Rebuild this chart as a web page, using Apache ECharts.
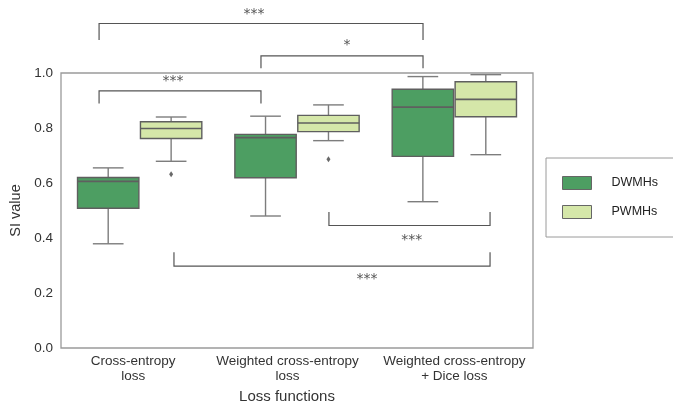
<!DOCTYPE html>
<html><head><meta charset="utf-8">
<script src="https://cdn.jsdelivr.net/npm/echarts@6/dist/echarts.min.js"></script>
<style>html,body{margin:0;padding:0;background:#fff}#c{width:673px;height:409px}</style>
</head><body><div id="c"></div>
<script>
const categories = ['Cross-entropy\nloss', 'Weighted cross-entropy\nloss', 'Weighted cross-entropy\n+ Dice loss'];
const seriesNames = ['DWMHs', 'PWMHs'];
// [low whisker, Q1, median, Q3, high whisker]
const dwmhStats = [
  [0.379, 0.508, 0.606, 0.620, 0.655],
  [0.480, 0.619, 0.765, 0.777, 0.843],
  [0.532, 0.697, 0.876, 0.941, 0.987]
];
const pwmhStats = [
  [0.679, 0.762, 0.798, 0.823, 0.840],
  [0.754, 0.787, 0.818, 0.846, 0.884],
  [0.703, 0.841, 0.904, 0.968, 0.994]
];
// [category index, value]
const pwmhOutliers = [[0, 0.632], [1, 0.686]];
const yTicks = [0.0, 0.2, 0.4, 0.6, 0.8, 1.0];
// significance brackets: [xStart, xEnd, yLine, yTip] (x in category units)
const brackets = [
  [-0.258, 1.801, 1.180, 1.120],
  [0.771, 1.801, 1.062, 1.017],
  [-0.258, 0.771, 0.935, 0.889],
  [1.203, 2.227, 0.4455, 0.495],
  [0.218, 2.227, 0.2975, 0.348]
];
const bracketLabels = ['***', '*', '***', '***', '***'];
// label anchor: [x, y]
const bracketLabelPos = [
  [0.727, 1.213], [1.318, 1.100], [0.212, 0.969], [1.730, 0.391], [1.445, 0.248]
];

const colors = ['#4d9e62', '#d5e7a9'];
const edge = '#5f5f5f';
const whisker = '#7d7d7d';
const hueOffset = [-0.2, 0.2];
const boxW = 0.39;

function boxRender(hue) {
  return function (params, api) {
    const i = api.value(0);
    const x = i + hueOffset[hue];
    const lo = api.value(1), q1 = api.value(2), med = api.value(3), q3 = api.value(4), hi = api.value(5);
    const w = api.size([boxW, 0])[0];
    const c = api.coord([x, 0])[0];
    const yLo = api.coord([x, lo])[1], yQ1 = api.coord([x, q1])[1], yMed = api.coord([x, med])[1];
    const yQ3 = api.coord([x, q3])[1], yHi = api.coord([x, hi])[1];
    const ls = { stroke: whisker, lineWidth: 1.4 };
    return {
      type: 'group',
      children: [
        { type: 'line', shape: { x1: c, y1: yQ1, x2: c, y2: yLo }, style: ls },
        { type: 'line', shape: { x1: c, y1: yQ3, x2: c, y2: yHi }, style: ls },
        { type: 'line', shape: { x1: c - w / 4, y1: yLo, x2: c + w / 4, y2: yLo }, style: ls },
        { type: 'line', shape: { x1: c - w / 4, y1: yHi, x2: c + w / 4, y2: yHi }, style: ls },
        { type: 'rect', shape: { x: c - w / 2, y: yQ3, width: w, height: yQ1 - yQ3 },
          style: { fill: colors[hue], stroke: edge, lineWidth: 1.4 } },
        { type: 'line', shape: { x1: c - w / 2, y1: yMed, x2: c + w / 2, y2: yMed }, style: { stroke: edge, lineWidth: 1.6 } }
      ]
    };
  };
}

function bracketRender(params, api) {
  const x1 = api.coord([api.value(0), api.value(2)]);
  const x2 = api.coord([api.value(1), api.value(2)]);
  const tipY = api.coord([0, api.value(3)])[1];
  const lp = bracketLabelPos[params.dataIndex];
  const tp = api.coord(lp);
  return {
    type: 'group',
    children: [
      { type: 'polyline', shape: { points: [[x1[0], tipY], [x1[0], x1[1]], [x2[0], x2[1]], [x2[0], tipY]] },
        style: { stroke: '#555', lineWidth: 1.2, fill: null } },
      { type: 'text', x: tp[0], y: tp[1],
        style: { text: bracketLabels[params.dataIndex], fill: '#555', font: '14px "DejaVu Sans"', align: 'center', verticalAlign: 'middle' } }
    ]
  };
}

const chart = echarts.init(document.getElementById('c'), null, { renderer: 'canvas' });
chart.setOption({
  animation: false,
  grid: { left: 61, right: 140, top: 73, bottom: 57, show: true, borderColor: '#9a9a9a', borderWidth: 1.3, backgroundColor: 'transparent' },
  legend: {
    orient: 'vertical', left: 546, top: 158,
    data: seriesNames,
    icon: 'rect', itemWidth: 29, itemHeight: 13, itemGap: 15,
    padding: [18, 40, 18, 16],
    borderColor: '#9a9a9a', borderWidth: 1,
    itemStyle: { borderColor: '#666', borderWidth: 1 },
    textStyle: { fontFamily: 'Liberation Sans', fontSize: 12.5, color: '#222', padding: [0, 0, 0, 15] }
  },
  xAxis: [
    {
      type: 'category', data: categories, gridIndex: 0,
      axisLine: { show: false }, axisTick: { show: false },
      axisLabel: {
        interval: 0,
        color: '#333', fontFamily: 'Liberation Sans', fontSize: 13.5, lineHeight: 15, margin: 6,
        formatter: function (v, idx) {
          const st = ['a', 'b', 'c'][idx];
          return v.split('\n').map(s => '{' + st + '|' + s + '}').join('\n');
        },
        rich: {
          a: { fontFamily: 'Liberation Sans', fontSize: 13.5, color: '#333', lineHeight: 15, padding: [0, 13, 0, 0] },
          b: { fontFamily: 'Liberation Sans', fontSize: 13.5, color: '#333', lineHeight: 15, padding: [0, 19, 0, 0] },
          c: { fontFamily: 'Liberation Sans', fontSize: 13.5, color: '#333', lineHeight: 15 }
        }
      },
      name: 'Loss functions', nameLocation: 'middle', nameGap: 41,
      nameTextStyle: { fontFamily: 'Liberation Sans', fontSize: 15, color: '#333', padding: [0, 20, 0, 0] }
    },
    {
      type: 'value', min: -0.5, max: 2.5, show: false, gridIndex: 0
    }
  ],
  yAxis: {
    type: 'value', min: 0, max: 1, interval: 0.2,
    axisLine: { show: false }, axisTick: { show: false }, splitLine: { show: false },
    axisLabel: { color: '#333', fontFamily: 'Liberation Sans', fontSize: 13.5, margin: 8, formatter: v => v.toFixed(1) },
    name: 'SI value', nameLocation: 'middle', nameGap: 33,
    nameTextStyle: { fontFamily: 'Liberation Sans', fontSize: 14.5, color: '#333' }
  },
  series: [
    {
      name: seriesNames[0], type: 'custom', xAxisIndex: 1, renderItem: boxRender(0),
      itemStyle: { color: colors[0] },
      data: dwmhStats.map((s, i) => [i].concat(s)), clip: false
    },
    {
      name: seriesNames[1], type: 'custom', xAxisIndex: 1, renderItem: boxRender(1),
      itemStyle: { color: colors[1] },
      data: pwmhStats.map((s, i) => [i].concat(s)), clip: false
    },
    {
      type: 'scatter', xAxisIndex: 1, symbol: 'diamond', symbolSize: [4, 6],
      itemStyle: { color: '#444' },
      data: pwmhOutliers.map(o => [o[0] + hueOffset[1], o[1]])
    },
    {
      type: 'custom', xAxisIndex: 1, renderItem: bracketRender, clip: false,
      data: brackets
    }
  ]
});
</script>
</body></html>
